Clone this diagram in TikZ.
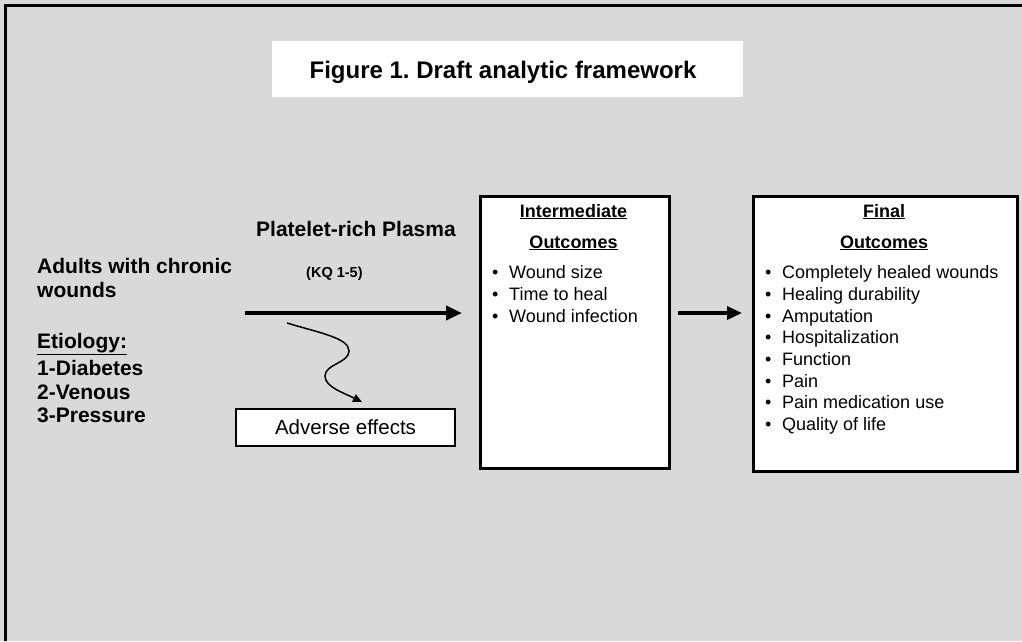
\documentclass[tikz,border=0pt]{standalone}
\usepackage{fontspec}
\setmainfont{Liberation Sans}
\usetikzlibrary{arrows.meta}
\definecolor{bg}{HTML}{D9D9D9}
\frenchspacing
\begin{document}
\begin{tikzpicture}[x=1pt,y=-1pt,
  lbl/.style={inner sep=0pt, anchor=base west, font=\fontsize{21}{25}\selectfont\bfseries},
  hdr/.style={inner sep=0pt, anchor=base, font=\fontsize{18}{22}\selectfont\bfseries},
  itm/.style={inner sep=0pt, anchor=base west, font=\fontsize{18}{22}\selectfont},
  outbox/.style={draw=black, fill=white, line width=3pt, anchor=north west, inner sep=0pt},
  bigarrow/.style={line width=4pt, -{Triangle[length=16pt,width=14pt]}}]
\path[fill=bg] (0,0) rectangle (1022,641);
\useasboundingbox (0,0) rectangle (1022,641);
\draw[line width=3pt] (5,641) -- (5,5) -- (1022,5);
% title
\node[fill=white, minimum width=471pt, minimum height=56pt, anchor=north west, inner sep=0pt] (titlebox) at (272,41) {};
\node[inner sep=0pt, anchor=base, font=\fontsize{24}{28}\selectfont\bfseries] (title) at (503,78) {Figure 1. Draft analytic framework};
% left column
\node[lbl] (adults) at (37,273) {Adults with chronic};
\node[lbl] (wounds) at (37,297) {wounds};
\node[lbl] (etio) at (37,348) {\underline{Etiology:}};
\node[lbl] (e1) at (37,375) {1-Diabetes};
\node[lbl] (e2) at (37,399) {2-Venous};
\node[lbl] (e3) at (37,422) {3-Pressure};
% intervention
\node[lbl] (prp) at (256,236) {Platelet-rich Plasma};
\node[inner sep=0pt, anchor=base west, font=\fontsize{14.5}{16}\selectfont\bfseries] (kq) at (306,277) {(KQ 1-5)};
% boxes
\node[outbox, minimum width=189pt, minimum height=272pt] (inter) at (479,195) {};
\node[outbox, minimum width=264pt, minimum height=275pt] (final) at (752,195) {};
\node[draw=black, fill=white, line width=2pt, anchor=north west, inner sep=0pt, minimum width=219pt, minimum height=37pt, font=\fontsize{20.5}{24}\selectfont] (adverse) at (235,408) {Adverse effects};
% intermediate contents
\node[hdr] (ih1) at (573.5,217) {\underline{Intermediate}};
\node[hdr] (ih2) at (573.5,248) {\underline{Outcomes}};
\foreach \t [count=\i] in {Wound size, Time to heal, Wound infection}{
  \node[itm] (ib\i) at (492,{257+21.7*\i}) {\textbullet};
  \node[itm] (it\i) at (509,{257+21.7*\i}) {\t};
}
% final contents
\node[hdr] (fh1) at (884,217) {\underline{Final}};
\node[hdr] (fh2) at (884,248) {\underline{Outcomes}};
\foreach \t [count=\i] in {Completely healed wounds, Healing durability, Amputation, Hospitalization, Function, Pain, Pain medication use, Quality of life}{
  \node[itm] (fb\i) at (765,{257+21.7*\i}) {\textbullet};
  \node[itm] (ft\i) at (782,{257+21.7*\i}) {\t};
}
% connectors
\coordinate (ms) at (245,313);
\draw[bigarrow, shorten >=17pt] (ms) -- (ms -| inter.west);
\draw[line width=3.5pt, -{Triangle[length=15pt,width=13pt]}, shorten <=7pt, shorten >=10pt] (ms -| inter.east) -- (ms -| final.west);
\coordinate (sqs) at (287,323);
\coordinate (sqe) at (362,402);
\draw[line width=1.5pt, -{Triangle[length=9pt,width=8pt]}] (sqs) .. controls (320,333) and (349,338) .. (349,351)
  .. controls (349,363) and (325,364) .. (325,376)
  .. controls (325,387) and (344,393) .. (sqe);
\end{tikzpicture}
\end{document}
